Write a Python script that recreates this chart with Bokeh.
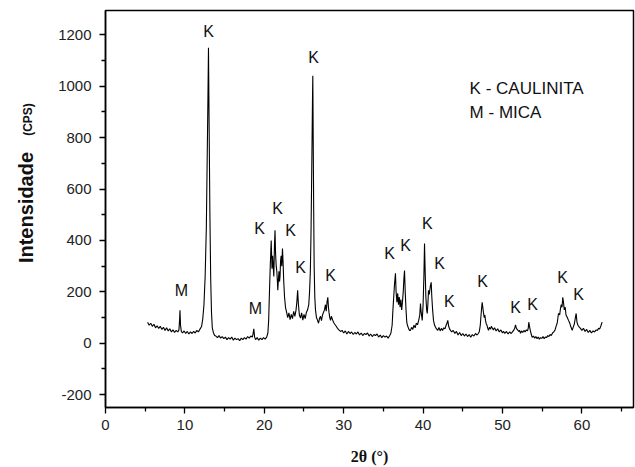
from math import pi
from bokeh.plotting import figure
from bokeh.layouts import row
from bokeh.models import ColumnDataSource, Range1d, FixedTicker, CustomJSTickFormatter
from bokeh.core.properties import value
from bokeh.embed import file_html
from bokeh.resources import INLINE

# ---- data (2θ in degrees, intensity in CPS) ----
two_theta = [
    5.3, 5.5, 5.7, 5.9, 6.1, 6.3, 6.5, 6.7, 6.9, 7.1, 7.3, 7.5, 7.7, 7.9, 8.1, 8.3, 8.5, 8.7, 8.9, 9.1, 9.25,
    9.33, 9.38, 9.45, 9.55, 9.7, 9.9, 10.1, 10.3, 10.5, 10.7, 10.9, 11.1, 11.3, 11.5, 11.7, 11.9,
    12.1, 12.25, 12.4, 12.55, 12.7, 12.8, 12.9, 12.97, 13.05, 13.15, 13.25, 13.35, 13.45, 13.6, 13.75,
    13.9, 14.1, 14.3, 14.5, 14.7, 14.9, 15.1, 15.3, 15.5, 15.7, 15.9, 16.1, 16.3, 16.5, 16.7, 16.9, 17.1, 17.3, 17.5, 17.7, 17.9, 18.1, 18.3, 18.5,
    18.6, 18.68, 18.78, 18.9, 19.1, 19.3, 19.5, 19.7, 19.9, 20.1, 20.3, 20.45,
    20.55, 20.65, 20.75, 20.87, 20.97, 21.05, 21.12, 21.2, 21.28, 21.35, 21.42, 21.5, 21.58, 21.65, 21.7, 21.78, 21.85, 21.92, 21.98, 22.05, 22.12, 22.2, 22.29, 22.36, 22.45, 22.55, 22.67, 22.8,
    22.95, 23.1, 23.25, 23.4, 23.55, 23.7, 23.85, 24.0, 24.1, 24.2, 24.3, 24.42, 24.56, 24.7, 24.85, 25.0, 25.15, 25.3, 25.45, 25.6,
    25.7, 25.8, 25.88, 25.95, 26.02, 26.07, 26.11, 26.16, 26.22, 26.28, 26.36, 26.45, 26.57,
    26.7, 26.83, 26.95, 27.08, 27.2, 27.33, 27.45, 27.58, 27.7, 27.8, 27.9, 28.0, 28.08, 28.15, 28.25, 28.34, 28.45, 28.59, 28.72, 28.85, 28.97, 29.1, 29.22, 29.4, 29.6,
    29.8, 30.0, 30.2, 30.4, 30.6, 30.8, 31.0, 31.2, 31.4, 31.6, 31.8, 32.0, 32.2, 32.4, 32.6, 32.8, 33.0, 33.2, 33.4, 33.6, 33.8, 34.0, 34.2, 34.4, 34.6, 34.8, 35.0, 35.2, 35.4, 35.6, 35.8,
    35.95, 36.1, 36.2, 36.3, 36.4, 36.52, 36.6, 36.7, 36.8, 36.9, 37.0, 37.1, 37.2, 37.3, 37.4, 37.5, 37.58, 37.66, 37.75, 37.85, 37.95, 38.05, 38.2, 38.3,
    38.41, 38.55, 38.7, 38.85, 39.0, 39.15, 39.3, 39.45, 39.58, 39.67, 39.76, 39.89, 40.0, 40.1, 40.18, 40.26, 40.35, 40.45, 40.52, 40.6, 40.68, 40.78, 40.9, 41.02, 41.1, 41.2, 41.31, 41.43, 41.56, 41.7,
    41.85, 42.0, 42.15, 42.3, 42.45, 42.6, 42.75, 42.9, 43.0, 43.11, 43.22, 43.35, 43.45, 43.6, 43.8, 44.0, 44.2, 44.4, 44.6, 44.8, 45.0, 45.2, 45.4, 45.6, 45.8, 46.0, 46.2, 46.4, 46.6, 46.8, 46.95,
    47.08, 47.2, 47.3, 47.38, 47.44, 47.52, 47.6, 47.7, 47.78, 47.86, 47.95, 48.05, 48.15, 48.24, 48.35, 48.5, 48.6, 48.7, 48.85, 49.0, 49.2, 49.4, 49.6, 49.8, 50.0, 50.13, 50.3, 50.5, 50.7, 50.9, 51.1, 51.3, 51.45,
    51.55, 51.64, 51.75, 51.9, 52.05, 52.15, 52.27, 52.4, 52.55, 52.7, 52.85, 53.0, 53.15, 53.25, 53.31, 53.4, 53.5, 53.62, 53.74, 53.9, 54.05, 54.2, 54.35, 54.5, 54.65, 54.8, 54.95, 55.1, 55.25, 55.4, 55.55, 55.7, 55.85, 56.0, 56.15, 56.3, 56.45,
    56.6, 56.75, 56.9, 57.05, 57.2, 57.3, 57.4, 57.5, 57.59, 57.68, 57.78, 57.9, 58.0, 58.15, 58.3, 58.45, 58.6, 58.78, 58.9, 59.05, 59.18, 59.28, 59.38, 59.5, 59.65, 59.82, 60.0, 60.2, 60.4, 60.6, 60.8, 61.0, 61.2, 61.4, 61.6, 61.8, 61.95, 62.1, 62.25, 62.4, 62.55,
]
intensity = [
    82, 70, 78, 66, 74, 60, 68, 58, 66, 54, 62, 50, 60, 48, 56, 44, 52, 42, 50, 44, 52,
    90, 128, 70, 46, 40, 48, 38, 46, 36, 44, 38, 46, 40, 50, 44, 55,
    65, 95, 150, 260, 450, 700, 950, 1150, 850, 500, 250, 120, 60, 40, 30,
    28, 22, 30, 20, 26, 18, 24, 14, 22, 16, 24, 12, 20, 14, 18, 10, 20, 14, 22, 16, 26, 20, 28, 24,
    40, 56, 24, 14, 22, 12, 20, 14, 22, 16, 24, 40,
    90, 200, 300, 400, 290, 340, 300, 260, 380, 440, 350, 300, 280, 240, 206, 250, 280, 240, 260, 320, 340, 300, 369, 320, 240, 180, 140, 122,
    100, 118, 92, 112, 96, 124, 105, 130, 160, 206, 150, 110, 98, 118, 90, 112, 96, 120, 130, 150,
    200, 280, 420, 600, 800, 950, 1041, 800, 520, 300, 180, 130, 100,
    90, 78, 96, 105, 88, 110, 120, 130, 150, 125, 160, 179, 140, 120, 100, 89, 105, 92, 82, 75, 70, 64, 58, 52, 46,
    50, 40, 48, 36, 46, 38, 44, 34, 42, 36, 44, 32, 40, 30, 38, 34, 40, 28, 36, 26, 34, 30, 36, 24, 32, 22, 30, 24, 28, 20, 30,
    40, 70, 130, 180, 230, 272, 200, 160, 194, 150, 180, 140, 170, 130, 160, 200, 250, 283, 200, 130, 80, 68, 55, 50,
    50, 62, 54, 70, 60, 78, 72, 90, 110, 155, 120, 89, 150, 260, 388, 280, 180, 130, 116, 150, 206, 190, 220, 237, 180, 130, 89, 72, 62, 56,
    50, 62, 48, 58, 50, 60, 56, 70, 78, 89, 66, 55, 50, 44, 50, 38, 46, 32, 42, 30, 38, 28, 36, 26, 34, 23, 34, 28, 38, 32, 38,
    45, 70, 110, 140, 159, 140, 120, 100, 110, 89, 76, 70, 58, 50, 62, 55, 66, 60, 52, 60, 48, 56, 44, 52, 40, 47, 38, 46, 36, 44, 38, 46, 52,
    60, 72, 58, 52, 46, 50, 39, 48, 42, 50, 44, 52, 48, 60, 82, 66, 50, 35, 23, 28, 20, 26, 18, 24, 16, 22, 19, 26, 18, 24, 22, 30, 26, 34, 30, 40, 44,
    50, 66, 80, 116, 110, 135, 150, 140, 179, 160, 130, 140, 110, 101, 90, 80, 65, 50, 62, 75, 100, 116, 82, 70, 64, 58, 50, 58, 46, 54, 42, 50, 40, 48, 44, 52, 50, 58, 56, 68, 82,
]
assert len(two_theta) == len(intensity), (len(two_theta), len(intensity))

# peak annotations
peak_text = ["M", "K", "M", "K", "K", "K", "K", "K", "K", "K", "K", "K", "K", "K", "K", "K", "K", "K", "K"]
peak_x = [9.57, 12.97, 18.89, 19.40, 21.66, 23.30, 24.56, 26.20, 28.34, 35.77, 37.78, 40.55, 42.07, 43.32, 47.48, 51.64, 53.78, 57.56, 59.57]
peak_y = [206, 1212, 136, 447, 524, 439, 295, 1111, 264, 350, 381, 466, 311, 163, 241, 140, 151, 256, 190]

key_text = ["K - CAULINITA", "M - MICA"]

x_ticks = [0, 10, 20, 30, 40, 50, 60]
x_minor = [5, 15, 25, 35, 45, 55, 65]
y_ticks = [-200, 0, 200, 400, 600, 800, 1000, 1200]
y_minor = [-100, 100, 300, 500, 700, 900, 1100]

FONT = "Liberation Sans"
TXT = "#111111"

# ---- main plot ----
p = figure(width=595, height=467, output_backend="svg", toolbar_location=None,
           x_range=Range1d(0, 66.5), y_range=Range1d(-250, 1295),
           min_border_left=65, min_border_right=2, min_border_top=10, min_border_bottom=59)
p.background_fill_color = "white"
p.border_fill_color = "white"
p.outline_line_color = "black"
p.outline_line_width = 1.5
p.xgrid.visible = False
p.ygrid.visible = False

p.line(two_theta, intensity, line_color="black", line_width=1.1)

src = ColumnDataSource(dict(x=peak_x, y=peak_y, t=peak_text))
p.text(x="x", y="y", text="t", source=src, text_font=value(FONT), text_font_size="16px",
       text_color=TXT, text_align="center", text_baseline="middle")

p.text(x=[45.86, 45.86], y=[990, 897], text=key_text, text_font=value(FONT), text_font_size="17px",
       text_color=TXT, text_align="left", text_baseline="middle")

for ax in (p.xaxis[0], p.yaxis[0]):
    ax.axis_line_color = "black"
    ax.axis_line_width = 1.5
    ax.major_tick_line_color = "black"
    ax.minor_tick_line_color = "black"
    ax.major_tick_line_width = 1.3
    ax.minor_tick_line_width = 1.3
    ax.major_tick_in = 0
    ax.major_tick_out = 6
    ax.minor_tick_in = 0
    ax.minor_tick_out = 4
    ax.major_label_text_font = FONT
    ax.major_label_text_font_size = "15px"
    ax.major_label_text_color = "#222222"
    ax.formatter = CustomJSTickFormatter(code="return tick.toString();")

p.xaxis.ticker = FixedTicker(ticks=x_ticks, minor_ticks=x_minor)
p.yaxis.ticker = FixedTicker(ticks=y_ticks, minor_ticks=y_minor)
p.xaxis.major_label_standoff = 6
p.yaxis.major_label_standoff = 8

p.xaxis.axis_label = "2θ (°)"
p.xaxis.axis_label_text_font = "Liberation Serif"
p.xaxis.axis_label_text_font_size = "16px"
p.xaxis.axis_label_text_font_style = "bold"
p.xaxis.axis_label_text_color = TXT
p.xaxis.axis_label_standoff = 15

# ---- narrow strip holding the rotated y-axis title ----
lab = figure(frame_width=40, frame_height=467, output_backend="svg", toolbar_location=None,
             x_range=Range1d(0, 40), y_range=Range1d(0, 467),
             x_axis_type=None, y_axis_type=None,
             min_border=0, min_border_left=0, min_border_right=0, min_border_top=0, min_border_bottom=0)
lab.outline_line_color = None
lab.xgrid.visible = False
lab.ygrid.visible = False
lab.background_fill_color = "white"
lab.border_fill_color = "white"
lab.text(x=[25], y=[270], text=["Intensidade"], angle=pi/2, text_font=value(FONT), text_font_size="20px",
         text_font_style="bold", text_color=TXT, text_align="center", text_baseline="middle")
lab.text(x=[27], y=[358], text=["(CPS)"], angle=pi/2, text_font=value(FONT), text_font_size="12px",
         text_font_style="bold", text_color=TXT, text_align="center", text_baseline="middle")

layout = row(lab, p)
open("out.html", "w").write(file_html(layout, INLINE))
